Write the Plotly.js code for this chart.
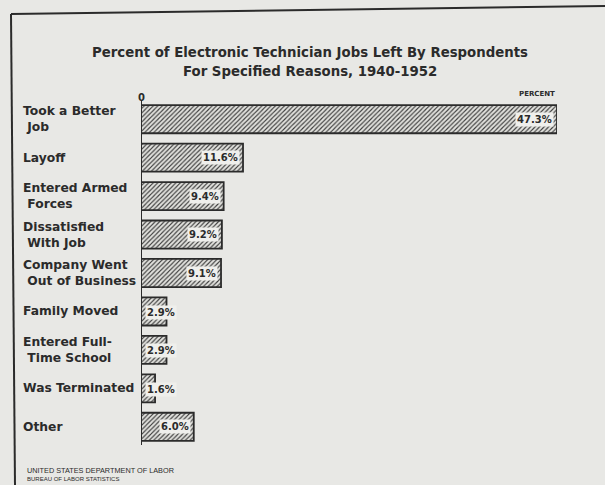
<!DOCTYPE html>
<html>
<head>
<meta charset="utf-8">
<script src="https://cdn.plot.ly/plotly-3.0.1.min.js"></script>
<style>
html,body{margin:0;padding:0;background:#e8e8e5;}
#chart{width:605px;height:485px;}
</style>
</head>
<body>
<div id="chart"></div>
<script>
const categories = [
  "Took a Better<br> Job",
  "Layoff",
  "Entered Armed<br> Forces",
  "Dissatisfied<br> With Job",
  "Company Went<br> Out of Business",
  "Family Moved",
  "Entered Full-<br> Time School",
  "Was Terminated",
  "Other"
];
const values = [47.3, 11.6, 9.4, 9.2, 9.1, 2.9, 2.9, 1.6, 6.0];
const valueLabels = ["47.3%", "11.6%", "9.4%", "9.2%", "9.1%", "2.9%", "2.9%", "1.6%", "6.0%"];
const titleLines = ["Percent of Electronic Technician Jobs Left By Respondents", "For Specified Reasons, 1940-1952"];

const ink = "#2b2b2b";
const bg = "#e8e8e5";
const fontFam = "DejaVu Sans, sans-serif";

const W = 605, H = 485;
const L = 141, R = 48, T = 100, B = 39;
const pw = W - L - R, ph = H - T - B;
const px = x => (x - L) / pw;
const py = y => (H - B - y) / ph;

const trace = {
  type: "bar",
  orientation: "h",
  y: categories,
  x: values,
  width: 0.73,
  marker: {
    color: "#d8d8d4",
    line: {color: ink, width: 1.8},
    pattern: {shape: "/", fgcolor: "#3a3a3a", bgcolor: "#e2e2de", size: 3.2, solidity: 0.35}
  },
  hoverinfo: "skip"
};

const annotations = [];
categories.forEach((c, i) => {
  annotations.push({
    xref: "paper", yref: "y", x: px(21), y: c, xanchor: "left", yanchor: "middle",
    text: c, showarrow: false, align: "left",
    font: {family: fontFam, size: 12.3, color: ink, weight: "bold"}
  });
  const small = values[i] < 5;
  annotations.push({
    xref: "x", yref: "y", x: small ? 0 : values[i], y: c,
    xanchor: small ? "left" : "right", yanchor: "middle",
    xshift: small ? 4 : -3, yshift: small ? -1 : 0,
    text: valueLabels[i], showarrow: false,
    bgcolor: "#efefec", borderpad: 1,
    font: {family: fontFam, size: 10, color: ink, weight: "bold"}
  });
});
titleLines.forEach((t, i) => {
  annotations.push({
    xref: "paper", yref: "paper", x: px(310), y: py(i === 0 ? 53 : 72),
    xanchor: "center", yanchor: "middle", text: t, showarrow: false,
    font: {family: fontFam, size: 13.3, color: ink, weight: "bold"}
  });
});
annotations.push({
  xref: "x", yref: "paper", x: 0, y: py(97), xanchor: "center", yanchor: "middle",
  text: "0", showarrow: false, font: {family: fontFam, size: 10, color: ink, weight: "bold"}
});
annotations.push({
  xref: "paper", yref: "paper", x: px(557), y: py(94), xanchor: "right", yanchor: "middle",
  text: "PERCENT", showarrow: false, font: {family: fontFam, size: 7, color: ink, weight: "bold"}
});
annotations.push({
  xref: "paper", yref: "paper", x: px(25), y: py(470), xanchor: "left", yanchor: "middle",
  text: "UNITED STATES DEPARTMENT OF LABOR", showarrow: false,
  font: {family: "Liberation Sans, sans-serif", size: 7.3, color: ink}
});
annotations.push({
  xref: "paper", yref: "paper", x: px(25), y: py(479), xanchor: "left", yanchor: "middle",
  text: "BUREAU OF LABOR STATISTICS", showarrow: false,
  font: {family: "Liberation Sans, sans-serif", size: 6, color: ink}
});

const shapes = [
  {type: "line", xref: "paper", yref: "paper", x0: px(11), x1: px(605), y0: py(14), y1: py(6), line: {color: ink, width: 2}},
  {type: "line", xref: "paper", yref: "paper", x0: px(11), x1: px(15), y0: py(14), y1: py(485), line: {color: ink, width: 2}},
  {type: "line", xref: "x", yref: "paper", x0: 0, x1: 0, y0: py(100), y1: py(445), line: {color: ink, width: 2}}
];

const layout = {
  width: W, height: H,
  margin: {l: L, r: R, t: T, b: B},
  paper_bgcolor: bg, plot_bgcolor: bg,
  showlegend: false,
  xaxis: {range: [0, 47.3], showgrid: false, zeroline: false, showticklabels: false, ticks: "", showline: false, fixedrange: true},
  yaxis: {autorange: "reversed", showgrid: false, zeroline: false, showticklabels: false, ticks: "", showline: false, fixedrange: true},
  annotations: annotations,
  shapes: shapes
};

Plotly.newPlot("chart", [trace], layout, {displayModeBar: false, staticPlot: true});
</script>
</body>
</html>
